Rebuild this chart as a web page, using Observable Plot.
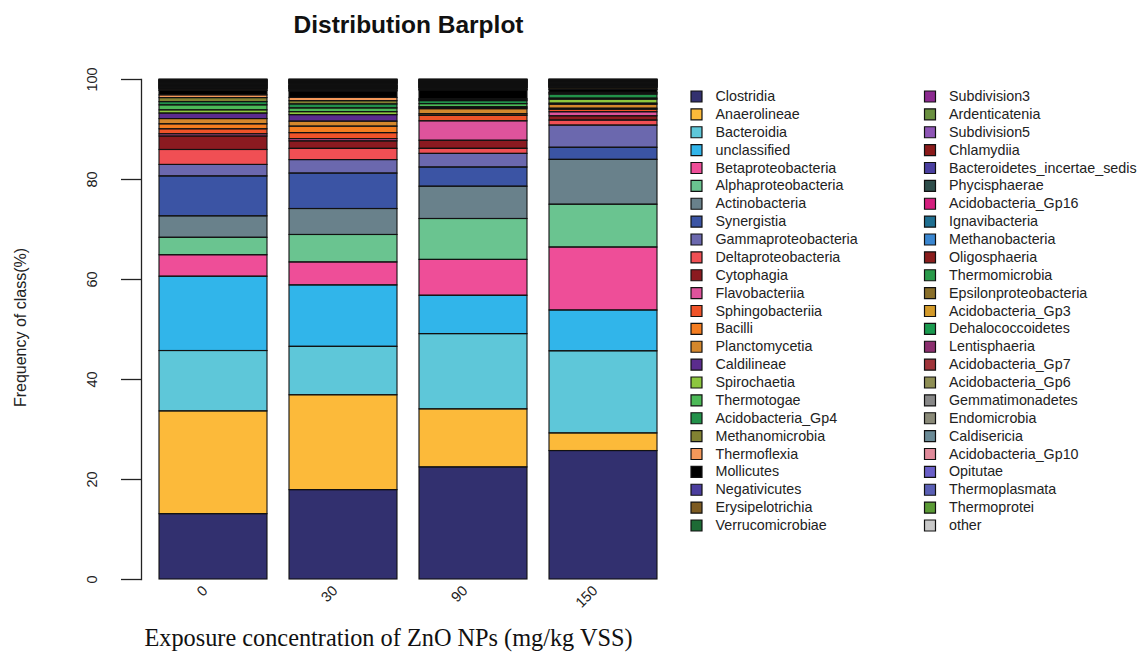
<!DOCTYPE html>
<html><head><meta charset="utf-8">
<script src="https://cdn.jsdelivr.net/npm/d3@7"></script>
<script src="https://cdn.jsdelivr.net/npm/@observablehq/plot@0.6"></script>
<style>
html,body{margin:0;padding:0;background:#fff;}
#wrap{position:relative;width:1146px;height:652px;overflow:hidden;font-family:"Liberation Sans",Arial,sans-serif;}
#wrap svg{position:absolute;top:0;}
</style></head><body><div id="wrap"></div>
<script>
const concentrations = ["0", "30", "90", "150"];
const classes = [
  "Clostridia","Anaerolineae","Bacteroidia","unclassified","Betaproteobacteria","Alphaproteobacteria",
  "Actinobacteria","Synergistia","Gammaproteobacteria","Deltaproteobacteria","Cytophagia","Flavobacteriia",
  "Sphingobacteriia","Bacilli","Planctomycetia","Caldilineae","Spirochaetia","Thermotogae","Acidobacteria_Gp4",
  "Methanomicrobia","Thermoflexia","Mollicutes","Negativicutes","Erysipelotrichia","Verrucomicrobiae",
  "Subdivision3","Ardenticatenia","Subdivision5","Chlamydiia","Bacteroidetes_incertae_sedis","Phycisphaerae",
  "Acidobacteria_Gp16","Ignavibacteria","Methanobacteria","Oligosphaeria","Thermomicrobia","Epsilonproteobacteria",
  "Acidobacteria_Gp3","Dehalococcoidetes","Lentisphaeria","Acidobacteria_Gp7","Acidobacteria_Gp6","Gemmatimonadetes",
  "Endomicrobia","Caldisericia","Acidobacteria_Gp10","Opitutae","Thermoplasmata","Thermoprotei","other"
];
const classColors = [
  "#32306f","#fcba3a","#5ec7d9","#31b5ea","#ee4e98","#6ac490",
  "#69818b","#3b54a4","#6b68ae","#f04f54","#8b1a20","#de539c",
  "#ef5329","#f47d20","#d4872c","#5b2c8e","#8dc73f","#4cb957","#22914a",
  "#828232","#f4985a","#000000","#4b3e9e","#7d5b22","#1d6b35",
  "#8c2a90","#6a9040","#8e55b5","#8b1a1a","#4a3fa0","#2e4d4a",
  "#d41f7e","#1f6f91","#3a86d0","#8a1d1d","#2a9a4a","#8a6f2a",
  "#d39a2a","#1a9a4f","#8c2f6f","#a0343a","#8f8f55","#888888",
  "#8a8a78","#6a8a96","#e08a9a","#6a5fc8","#5a5fb5","#5a9a35","#c8c8c8"
];
// relative abundance (%) per class, in the order of `classes`
const bar0 = [13.1,20.6,12.1,14.9,4.3,3.5,4.3,8.0,2.3,3.0,2.7,0.45,1.0,1.0,1.05,1.1,0.65,1.0,0.65,0.8,0.55,0.9,
  0.1,0.25,0.09,0.07,0.06,0.08,0.1,0.07,0.06,0.08,0.07,0.09,0.06,0.08,0.07,0.08,0.06,0.07,0.08,0.06,0.07,0.09,0.06,0.07,0.08,0.06,0.07,0.1];
const bar30 = [17.9,19.0,9.7,12.3,4.6,5.5,5.2,7.1,2.7,2.25,1.5,0.45,1.2,1.3,1.0,1.3,0.6,0.75,0.8,0.65,0.65,1.3,
  0.08,0.25,0.09,0.08,0.07,0.08,0.09,0.07,0.06,0.08,0.07,0.08,0.07,0.08,0.2,0.08,0.07,0.07,0.08,0.06,0.07,0.08,0.06,0.07,0.08,0.06,0.07,0.09];
const bar90 = [22.2,11.5,14.9,7.6,7.1,8.1,6.4,3.8,2.7,1.0,1.6,3.85,1.1,0.3,1.0,0.2,0.2,0.6,0.6,0.2,0.2,1.7,
  0.09,0.1,0.2,0.07,0.06,0.08,0.09,0.07,0.06,0.08,0.07,0.08,0.06,0.08,0.07,0.08,0.06,0.07,0.08,0.06,0.07,0.08,0.06,0.07,0.08,0.06,0.07,0.08];
const bar150 = [25.5,3.5,16.3,8.1,12.5,8.5,8.9,2.4,4.4,1.0,0.85,0.8,0.5,0.2,0.8,0.2,0.8,0.2,0.8,0.2,0.15,0.6,
  0.07,0.3,0.06,0.07,0.06,0.07,0.08,0.06,0.06,0.07,0.06,0.07,0.06,0.07,0.06,0.07,0.06,0.06,0.07,0.06,0.06,0.07,0.06,0.06,0.07,0.06,0.06,0.07];
const yTicks = [0, 20, 40, 60, 80, 100];
const titleText = "Distribution Barplot";
const yLabel = "Frequency of class(%)";
const xLabel = "Exposure concentration of ZnO NPs (mg/kg VSS)";

const series = [bar0, bar30, bar90, bar150];
const rows = [];
concentrations.forEach((c, j) => classes.forEach((k, i) => rows.push({conc: c, cls: k, value: series[j][i]})));

const sans = "'Liberation Sans', Arial, sans-serif";
const chart = Plot.plot({
  width: 690, height: 652,
  marginLeft: 141, marginRight: 15, marginTop: 79, marginBottom: 73,
  style: {fontFamily: sans, background: "transparent", color: "#222"},
  x: {domain: concentrations, paddingInner: 0.169, paddingOuter: 0.138, axis: null},
  y: {domain: [0, 1], axis: null},
  color: {domain: classes, range: classColors},
  marks: [
    Plot.barY(rows, Plot.stackY({offset: "normalize"}, {x: "conc", y: "value", fill: "cls", inset: 0})),
    Plot.barY(rows, Plot.stackY({offset: "normalize"}, {x: "conc", y: "value", fill: "none", stroke: "#111", strokeWidth: 1.1, inset: 0})),
    Plot.frame({anchor: "left", stroke: "#222", strokeWidth: 1.3}),
    Plot.axisY({ticks: yTicks.map(d => d / 100), tickSize: 20, tickFormat: () => "", label: null, stroke: "#222", strokeWidth: 1.3}),
    Plot.text(yTicks, {y: d => d / 100, text: d => String(d), frameAnchor: "left", textAnchor: "middle", lineAnchor: "middle", dx: -49, rotate: -90, fontSize: 14.5, fill: "#222"}),
    Plot.text(concentrations, {x: d => d, text: d => d, frameAnchor: "bottom", rotate: -45, textAnchor: "end", lineAnchor: "bottom", dx: -5, dy: 12, fontSize: 14.5, fill: "#222"}),
    Plot.text([yLabel], {text: d => d, frameAnchor: "left", textAnchor: "middle", lineAnchor: "middle", dx: -121, dy: -2, rotate: -90, fontSize: 16, fill: "#222"}),
    Plot.text([titleText], {text: d => d, frameAnchor: "top", textAnchor: "middle", lineAnchor: "middle", dy: -54, fontSize: 24.5, fontWeight: "bold", fill: "#111"}),
    Plot.text([xLabel], {text: d => d, frameAnchor: "bottom", textAnchor: "middle", lineAnchor: "middle", dx: -20, dy: 59, fontSize: 24.3, fontFamily: "'Liberation Serif', 'Times New Roman', serif", fill: "#111"})
  ]
});
chart.style.left = "0px";

const legendRows = classes.map((k, i) => ({cls: k, col: Math.floor(i / 25), row: i % 25}));
const legend = Plot.plot({
  width: 466, height: 652, margin: 0,
  style: {fontFamily: sans, background: "transparent", color: "#222"},
  x: {type: "linear", domain: [0, 1], range: [16, 249.5], axis: null},
  y: {type: "linear", domain: [0, 24], range: [96, 525], axis: null},
  color: {domain: classes, range: classColors},
  marks: [
    Plot.dot(legendRows, {x: "col", y: "row", fill: "cls", stroke: "#111", symbol: "square", r: 6.2, strokeWidth: 1.2}),
    Plot.text(legendRows, {x: "col", y: "row", text: "cls", textAnchor: "start", dx: 19, fontSize: 14.3, fill: "#222"})
  ]
});
legend.style.left = "680px";

const wrap = document.getElementById("wrap");
wrap.appendChild(chart);
wrap.appendChild(legend);
</script>
</body></html>
